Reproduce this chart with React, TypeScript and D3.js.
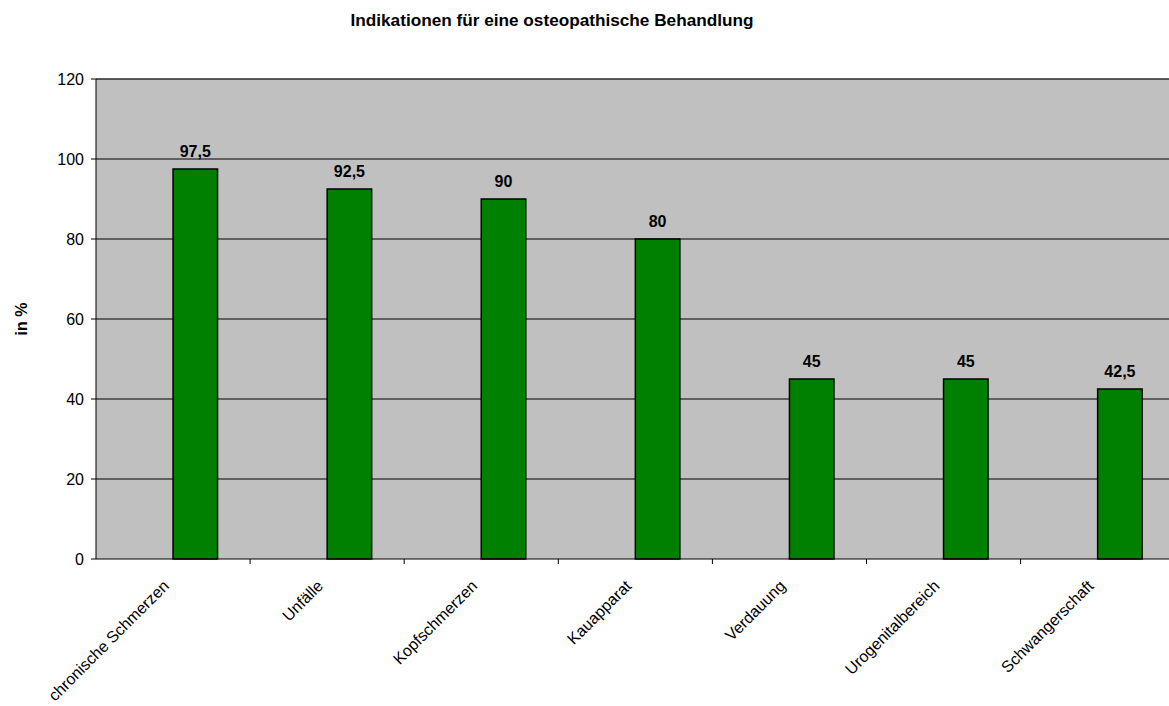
import React from "react";
import * as d3 from "d3";

const categories = ["chronische Schmerzen", "Unfälle", "Kopfschmerzen", "Kauapparat", "Verdauung", "Urogenitalbereich", "Schwangerschaft"];
const values = [97.5, 92.5, 90, 80, 45, 45, 42.5];
const valueLabels = ["97,5", "92,5", "90", "80", "45", "45", "42,5"];
const yTicks = [0, 20, 40, 60, 80, 100, 120];

export default function App() {
  const W = 1169, H = 706;
  const left = 96, top = 79, bottom = 559;
  const band = 154.1;
  const right = left + band * categories.length;
  const x = d3.scaleBand<string>().domain(categories).range([left, right]).paddingInner(0).paddingOuter(0);
  const y = d3.scaleLinear().domain([0, 120]).range([bottom, top]);
  const barW = 44.5;
  const font = "Arial, 'Liberation Sans', sans-serif";
  return (
    <svg width={W} height={H} style={{ position: "absolute", left: 0, top: 0 }} fontFamily={font}>
      <rect x={0} y={0} width={W} height={H} fill="#fff" />
      <text x={552} y={26} textAnchor="middle" fontWeight="bold" fontSize={17.2}>Indikationen für eine osteopathische Behandlung</text>
      <rect x={left} y={top} width={right - left} height={bottom - top} fill="#C0C0C0" />
      <line x1={left} x2={right} y1={top} y2={top} stroke="#808080" strokeWidth={1} />
      {yTicks.filter(t => t > 0).map(t => (
        <line key={t} x1={left} x2={right} y1={y(t)} y2={y(t)} stroke="#000" strokeWidth={1} />
      ))}
      {categories.map((c, i) => {
        const cx = (x(c) as number) + x.bandwidth() / 2;
        return (
          <g key={c}>
            <rect x={cx} y={y(values[i])} width={barW} height={bottom - y(values[i])} fill="#008000" stroke="#000" strokeWidth={1.5} />
            <text x={cx + barW / 2} y={y(values[i]) - 12} textAnchor="middle" fontWeight="bold" fontSize={16}>{valueLabels[i]}</text>
            <text transform={`translate(${cx - 3},${bottom + 28}) rotate(-45)`} textAnchor="end" fontSize={16}>{c}</text>
          </g>
        );
      })}
      {categories.map((c, i) => (
        <line key={"t" + i} x1={(x(c) as number) + band} x2={(x(c) as number) + band} y1={bottom} y2={bottom + 5} stroke="#000" />
      ))}
      <line x1={left} x2={right} y1={bottom} y2={bottom} stroke="#000" strokeWidth={1} />
      <line x1={left} x2={left} y1={top} y2={bottom} stroke="#000" strokeWidth={1} />
      {yTicks.map(t => (
        <g key={t}>
          <line x1={left - 5} x2={left} y1={y(t)} y2={y(t)} stroke="#000" />
          <text x={left - 12} y={y(t) + 5.5} textAnchor="end" fontSize={16}>{t}</text>
        </g>
      ))}
      <text transform={`translate(27,${(top + bottom) / 2}) rotate(-90)`} textAnchor="middle" fontWeight="bold" fontSize={16}>in %</text>
    </svg>
  );
}
